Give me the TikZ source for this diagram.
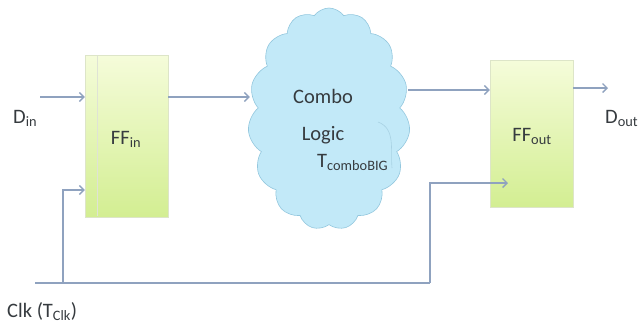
\documentclass[tikz,border=0pt]{standalone}
\usepackage{fontspec}
\setmainfont{Carlito}
\usepackage{tikz}
\usetikzlibrary{arrows.meta,shapes.symbols}
\definecolor{wirecol}{HTML}{8FA2BF}
\definecolor{ffTop}{HTML}{F5FCDA}
\definecolor{ffBot}{HTML}{D3EE92}
\definecolor{cloudFill}{HTML}{C2E9F8}
\definecolor{cloudLine}{HTML}{93C7DE}
\definecolor{txtcol}{HTML}{363B3F}
\tikzset{
  wire/.style={draw=wirecol, line width=1.4pt},
  sig/.style={wire, -{Straight Barb[length=4.5pt,width=9pt]}},
  ffbox/.style={draw=ffBot!80!black!40, line width=0.4pt, top color=ffTop, bottom color=ffBot,
    minimum width=83pt, inner sep=0pt},
  lbl/.style={text=txtcol, font=\fontsize{20.5}{24}\selectfont, inner sep=0pt, anchor=base}
}

\begin{document}
\begin{tikzpicture}[x=1pt,y=-1pt]
                \useasboundingbox (0,0) rectangle (638,325);

                %the two flip flops, define nodes first
                \node (ffin) at (126.5,136) [ffbox, minimum height=162pt]{};
                \node (ffout) at (531.5,133.5) [ffbox, minimum height=147pt]{};
                \draw[ffBot!60!black!25, line width=0.5pt] (97,56) -- (97,216);
                \node[lbl] (ffinlbl) at (126,144) {FF\textsubscript{in}};
                \node[lbl] (ffoutlbl) at (532,141) {FF\textsubscript{out}};

                %the logic cloud between them
                \node (logic) at (329,119) [cloud, cloud puffs=15, cloud puff arc=110, aspect=0.72,
                    minimum width=162pt, minimum height=222pt, fill=cloudFill, draw=cloudLine, line width=0.6pt]{};
                \draw[cloudLine!80, line width=0.6pt] (378,122) to[out=-20,in=95] (392,168);
                \node[lbl] (combo) at (323,103) {Combo};
                \node[lbl] (logicname) at (323,140) {Logic};
                \node[lbl, anchor=base west] (tcombo) at (317,167) {T\textsubscript{comboBIG}};

                %free ends of the wires
                \coordinate (din) at (40,97);
                \coordinate (dout) at (608,88);
                \coordinate (clk) at (35,283);
                \coordinate (clktap) at (63,283);
                \coordinate (clkturn) at (430,283);
                \coordinate (clkend) at (508,183);

                %data path
                \draw[sig] (din) -- (din -| ffin.west);
                \draw[sig] (ffin.east |- din) -- (logic.west |- din);
                \draw[sig] (logic.east |- 0,90) -- (ffout.west |- 0,90);
                \draw[sig] (ffout.east |- dout) -- (dout);

                %clock distribution
                \draw[wire] (clk) -- (clkturn);
                \draw[sig] (clktap) |- (ffin.west |- 0,190);
                \draw[sig] (clkturn) |- (clkend);

                %label the signals
                \node[lbl, anchor=base west] (dinlbl) at (13,123) {D\textsubscript{in}};
                \node[lbl, anchor=base west] (doutlbl) at (605,123) {D\textsubscript{out}};
                \node[lbl, anchor=base west] (clklbl) at (7,317) {Clk (T\textsubscript{Clk})};
\end{tikzpicture}
\end{document}
